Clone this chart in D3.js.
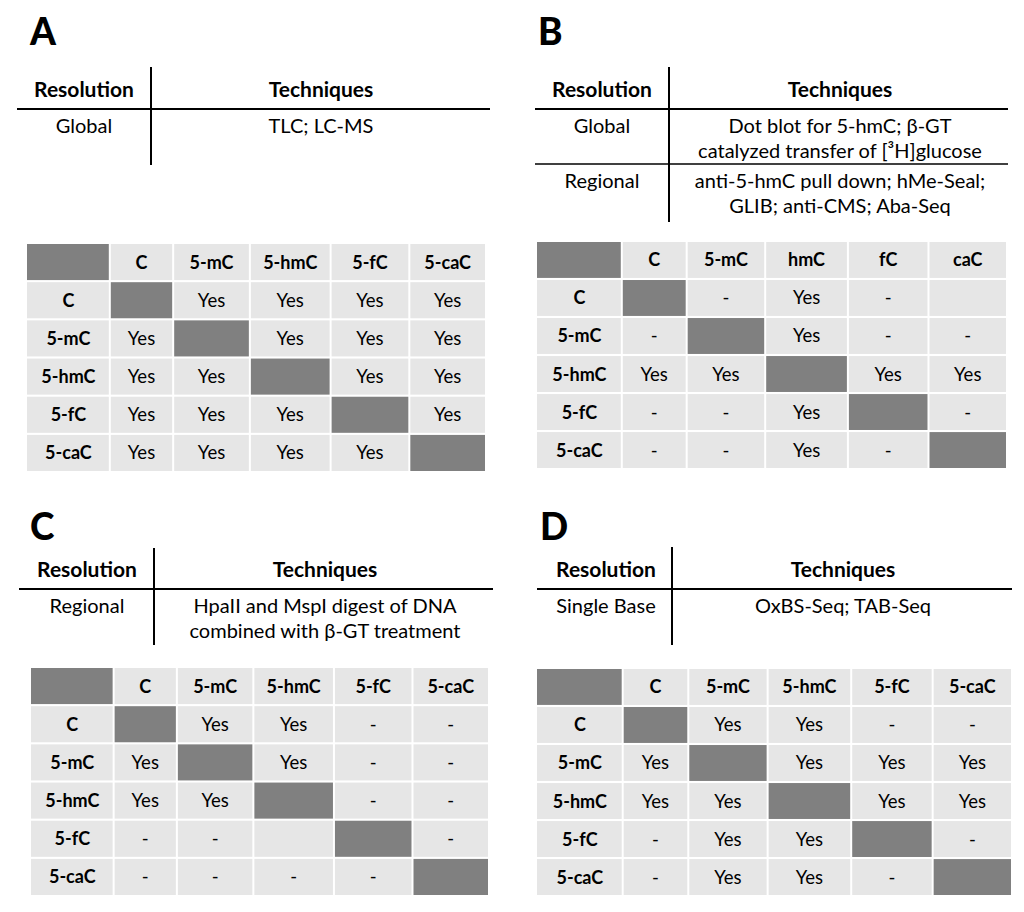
<!DOCTYPE html>
<html>
<head>
<meta charset="utf-8">
<script src="https://cdn.jsdelivr.net/npm/d3@7"></script>
<style>
  body { margin: 0; background: #fff; }
  svg { display: block; font-family: Lato, "Open Sans", sans-serif; }
</style>
</head>
<body>
<div id="chart"></div>
<script>
// data
const panelNames = ["A", "B", "C", "D"];
const rowLabels = ["C", "5-mC", "5-hmC", "5-fC", "5-caC"];
const colLabels = ["C", "5-mC", "5-hmC", "5-fC", "5-caC"];
const colLabelsB = ["C", "5-mC", "hmC", "fC", "caC"];

// null = diagonal (dark), "" = empty cell
const cellsA = [
    [null, "Yes", "Yes", "Yes", "Yes"],
    ["Yes", null, "Yes", "Yes", "Yes"],
    ["Yes", "Yes", null, "Yes", "Yes"],
    ["Yes", "Yes", "Yes", null, "Yes"],
    ["Yes", "Yes", "Yes", "Yes", null]
];
const cellsB = [
    [null, "-", "Yes", "-", ""],
    ["-", null, "Yes", "-", "-"],
    ["Yes", "Yes", null, "Yes", "Yes"],
    ["-", "-", "Yes", null, "-"],
    ["-", "-", "Yes", "-", null]
];
const cellsC = [
    [null, "Yes", "Yes", "-", "-"],
    ["Yes", null, "Yes", "-", "-"],
    ["Yes", "Yes", null, "-", "-"],
    ["-", "-", "", null, "-"],
    ["-", "-", "-", "-", null]
];
const cellsD = [
    [null, "Yes", "Yes", "-", "-"],
    ["Yes", null, "Yes", "Yes", "Yes"],
    ["Yes", "Yes", null, "Yes", "Yes"],
    ["-", "Yes", "Yes", null, "-"],
    ["-", "Yes", "Yes", "-", null]
];

const techA = [{ res: "Global", lines: ["TLC; LC-MS"] }];
const techB = [
    { res: "Global", lines: ["Dot blot for 5-hmC; β-GT", "catalyzed transfer of [³H]glucose"] },
    { res: "Regional", lines: ["anti-5-hmC pull down; hMe-Seal;", "GLIB; anti-CMS; Aba-Seq"] }
];
const techC = [{ res: "Regional", lines: ["HpaII and MspI digest of DNA", "combined with β-GT treatment"] }];
const techD = [{ res: "Single Base", lines: ["OxBS-Seq; TAB-Seq"] }];

// layout
const colWeights = [81, 62, 75, 79, 77, 75];
const layout = {
    A: { lx: 30, ly: 45, left: 17, right: 490, div: 151, vTop: 67, vBot: 165, hLine: 109, head: 97, resX: 84, techX: 321, mx0: 27, mx1: 486, my0: 244, my1: 471, cols: colLabels, cells: cellsA, tech: techA },
    B: { lx: 538, ly: 45, left: 535, right: 1008, div: 669, vTop: 67, vBot: 222, hLine: 109, head: 97, resX: 602, techX: 840, mx0: 537, mx1: 1007, my0: 242, my1: 468, cols: colLabelsB, cells: cellsB, tech: techB },
    C: { lx: 30, ly: 540, left: 19, right: 493, div: 154, vTop: 548, vBot: 645, hLine: 589, head: 577, resX: 87, techX: 325, mx0: 31, mx1: 489, my0: 668, my1: 895, cols: colLabels, cells: cellsC, tech: techC },
    D: { lx: 540, ly: 540, left: 537, right: 1012, div: 672, vTop: 547, vBot: 645, hLine: 589, head: 577, resX: 606, techX: 843, mx0: 537, mx1: 1012, my0: 669, my1: 895, cols: colLabels, cells: cellsD, tech: techD }
};

const width = 1024, height = 912;
const svg = d3.select("#chart").append("svg")
    .attr("width", width)
    .attr("height", height);

const cum = [0];
colWeights.forEach(w => cum.push(cum[cum.length - 1] + w));

panelNames.forEach(name => {
    const p = layout[name];
    const g = svg.append("g");

    g.append("text")
        .attr("x", p.lx)
        .attr("y", p.ly)
        .attr("font-size", 37)
        .attr("font-weight", 900)
        .text(name);

    // resolution / techniques table
    g.append("line")
        .attr("x1", p.div).attr("x2", p.div)
        .attr("y1", p.vTop).attr("y2", p.vBot)
        .attr("stroke", "#000").attr("stroke-width", 2);
    g.append("line")
        .attr("x1", p.left).attr("x2", p.right)
        .attr("y1", p.hLine).attr("y2", p.hLine)
        .attr("stroke", "#000").attr("stroke-width", 2);

    g.append("text").attr("x", p.resX).attr("y", p.head)
        .attr("text-anchor", "middle").attr("font-size", 21).attr("font-weight", "bold")
        .text("Resolution");
    g.append("text").attr("x", p.techX).attr("y", p.head)
        .attr("text-anchor", "middle").attr("font-size", 21).attr("font-weight", "bold")
        .text("Techniques");

    let top = p.hLine;
    p.tech.forEach((t, i) => {
        if (i > 0) {
            g.append("line")
                .attr("x1", p.left).attr("x2", p.right)
                .attr("y1", top).attr("y2", top)
                .attr("stroke", "#000").attr("stroke-width", 1.5);
        }
        g.append("text").attr("x", p.resX).attr("y", top + 24)
            .attr("text-anchor", "middle").attr("font-size", 20)
            .text(t.res);
        g.selectAll(null)
            .data(t.lines)
            .enter()
            .append("text")
            .attr("x", p.techX)
            .attr("y", (d, j) => top + 24 + j * 25)
            .attr("text-anchor", "middle")
            .attr("font-size", 20)
            .text(d => d);
        top += t.lines.length * 25 + 5;
    });

    // matrix
    const x = d3.scaleLinear().domain([0, cum[cum.length - 1]]).range([p.mx0, p.mx1]);
    const y = d3.scaleBand().domain(d3.range(6)).range([p.my0, p.my1]).paddingInner(0.055);
    const gap = 2;

    const cells = [];
    cells.push({ r: 0, c: 0, text: "", dark: true, bold: true });
    p.cols.forEach((c, j) => cells.push({ r: 0, c: j + 1, text: c, dark: false, bold: true }));
    rowLabels.forEach((rl, i) => {
        cells.push({ r: i + 1, c: 0, text: rl, dark: false, bold: true });
        p.cells[i].forEach((v, j) => cells.push({ r: i + 1, c: j + 1, text: v === null ? "" : v, dark: v === null, bold: false }));
    });

    const cg = g.selectAll("g.cell")
        .data(cells)
        .enter()
        .append("g")
        .attr("class", "cell");

    cg.append("rect")
        .attr("x", d => x(cum[d.c]) + (d.c > 0 ? gap / 2 : 0))
        .attr("y", d => y(d.r))
        .attr("width", d => x(cum[d.c + 1]) - x(cum[d.c]) - (d.c > 0 && d.c < 6 ? gap : gap / 2))
        .attr("height", y.bandwidth())
        .attr("fill", d => d.dark ? "#808080" : "#e6e6e6");

    cg.append("text")
        .attr("x", d => (x(cum[d.c]) + x(cum[d.c + 1])) / 2)
        .attr("y", d => y(d.r) + y.bandwidth() / 2 + 6.5)
        .attr("text-anchor", "middle")
        .attr("font-size", d => d.bold ? 18 : 18.5)
        .attr("font-weight", d => d.bold ? "bold" : "normal")
        .text(d => d.text);
});
</script>
</body>
</html>
